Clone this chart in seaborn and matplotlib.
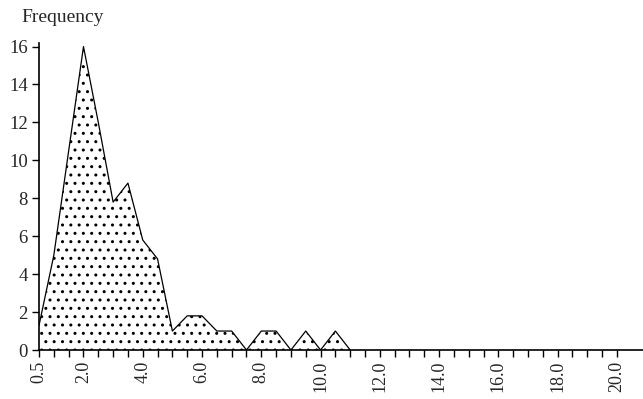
import numpy as np
import pandas as pd
import seaborn as sns
import matplotlib.pyplot as plt

# frequency polygon values
bins = [0.5, 1.0, 1.5, 2.0, 2.5, 3.0, 3.5, 4.0, 4.5, 5.0, 5.5,
        6.0, 6.5, 7.0, 7.5, 8.0, 8.5, 9.0, 9.5, 10.0, 10.5, 11.0]
freq = [1.3, 5, 10.5, 16, 12, 7.8, 8.8, 5.8, 4.8, 1, 1.8,
        1.8, 1, 1, 0, 1, 1, 0, 1, 0, 1, 0]
xlabels = ["0.5", "2.0", "4.0", "6.0", "8.0", "10.0",
           "12.0", "14.0", "16.0", "18.0", "20.0"]
yticks = [0, 2, 4, 6, 8, 10, 12, 14, 16]

df = pd.DataFrame({"bin": bins, "freq": freq})

sns.set_style("ticks")
plt.rcParams["font.family"] = ["Liberation Serif", "DejaVu Serif"]
plt.rcParams["hatch.linewidth"] = 1.0
plt.rcParams["hatch.color"] = "black"

fig = plt.figure(figsize=(6.43, 3.99), dpi=100)
ax = fig.add_axes([0.0607, 0.1228, 0.9393, 0.77])

# dotted fill under the polygon
ax.fill_between(df["bin"], df["freq"], 0, facecolor="white",
                edgecolor="black", hatch="..", linewidth=0)
sns.lineplot(data=df, x="bin", y="freq", color="black", linewidth=0.9, ax=ax)

ax.set_xlim(0.5, 20.88)
ax.set_ylim(0, 16.2)

xt = np.arange(0.5, 20.01, 0.5)
ax.set_xticks(xt)
ax.set_xticklabels([s if s in xlabels else "" for s in [f"{v:.1f}" for v in xt]],
                   rotation=90, fontsize=13)
ax.set_yticks(yticks)
ax.set_yticklabels([str(v) for v in yticks], fontsize=13.5)
ax.tick_params(axis="both", length=5, width=1, color="black", pad=3)

ax.set_xlabel("")
ax.set_ylabel("")
fig.text(0.034, 0.955, "Frequency", fontsize=14, ha="left", va="center")

sns.despine(ax=ax)
for s in ["left", "bottom"]:
    ax.spines[s].set_linewidth(1.2)
    ax.spines[s].set_color("black")

fig.savefig("out.png", dpi=100)
plt.close()
